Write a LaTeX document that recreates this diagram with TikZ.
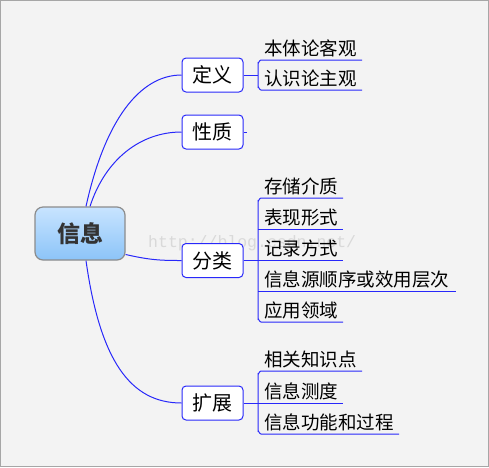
\documentclass[tikz,border=0pt]{standalone}
\usepackage{fontspec}
\setmainfont{Noto Sans CJK SC}
\newfontfamily\wmfont{Liberation Mono}
\usetikzlibrary{positioning}
\definecolor{linkblue}{RGB}{40,40,250}
\definecolor{bgcol}{RGB}{243,243,243}
\definecolor{rootborder}{RGB}{140,140,140}
\definecolor{roottop}{RGB}{200,228,255}
\definecolor{rootbot}{RGB}{140,196,248}
\begin{document}
\begin{tikzpicture}[x=1pt,y=-1pt,
  link/.style={draw=linkblue,line width=1pt},
  rootbox/.style={draw=rootborder,line width=1.2pt,rounded corners=8pt,top color=roottop,bottom color=rootbot,
    minimum width=90pt,minimum height=53pt,inner sep=0pt,font=\fontsize{23}{26}\selectfont\bfseries,text=black!80},
  topic/.style={draw=linkblue,line width=1pt,rounded corners=4pt,fill=white,
    minimum width=61pt,minimum height=34pt,inner sep=0pt,font=\fontsize{20}{23}\selectfont},
  leaf/.style={anchor=south west,inner xsep=0pt,inner ysep=2.5pt,font=\fontsize{18.5}{21}\selectfont},
  ul/.style={draw=linkblue,line width=1pt}
]
\useasboundingbox (0,0) rectangle (489,467);
\fill[bgcol] (0,0) rectangle (489,467);
\draw[gray!70,line width=1pt] (0.5,0.5) rectangle (488.5,466.5);

% watermark
\node[anchor=west,inner sep=0pt,text=gray!30,font=\wmfont\fontsize{16.5}{18}\selectfont] (wm) at (148,243) {http://blog.csdn.net/};

% root
\node[rootbox] (root) at (80,233.5) {信息};

% topics
\node[topic] (def) at (212.5,75) {定义};
\node[topic] (prop) at (212.5,132) {性质};
\node[topic] (cls) at (212.5,260.5) {分类};
\node[topic] (ext) at (212.5,403) {扩展};

% curves
\draw[link] (root.north) ++(6,0) coordinate (r1) .. controls (105,120) and (140,75) .. (def.west);
\draw[link] (root.north) ++(10,0) coordinate (r2) .. controls (105,160) and (140,132) .. (prop.west);
\draw[link] (root.east) ++(0,21) coordinate (r3) .. controls (150,260) and (160,260.5) .. (cls.west);
\draw[link] (root.south) ++(6,0) coordinate (r4) .. controls (100,360) and (130,403) .. (ext.west);

% leaves of 定义
\coordinate (d1) at (258,60);
\coordinate (d2) at (258,90);
\node[leaf] (l11) at (264,60) {本体论客观};
\node[leaf] (l12) at (264,90) {认识论主观};
\draw[link] (def.east) -- (258,75);
\draw[ul] (362,60) -- (261,60) to[out=180,in=-90] (258,63) -- (258,87) to[out=90,in=180] (261,90) -- (362,90);

% 性质 tick
\draw[link] (prop.east) -- ++(3,0);

% leaves of 分类
\node[leaf] (l21) at (264,198) {存储介质};
\node[leaf] (l22) at (264,229) {表现形式};
\node[leaf] (l23) at (264,260) {记录方式};
\node[leaf] (l24) at (264,291) {信息源顺序或效用层次};
\node[leaf] (l25) at (264,322) {应用领域};
\draw[link] (cls.east) -- (258,260.5);
\draw[ul] (343,198) -- (261,198) to[out=180,in=-90] (258,201) -- (258,319) to[out=90,in=180] (261,322) -- (343,322);
\draw[ul] (258,229) -- (343,229);
\draw[ul] (258,260) -- (343,260);
\draw[ul] (258,291) -- (456,291);

% leaves of 扩展
\node[leaf] (l31) at (264,371) {相关知识点};
\node[leaf] (l32) at (264,403) {信息测度};
\node[leaf] (l33) at (264,434) {信息功能和过程};
\draw[link] (ext.east) -- (258,403);
\draw[ul] (362,371) -- (261,371) to[out=180,in=-90] (258,374) -- (258,431) to[out=90,in=180] (261,434) -- (399,434);
\draw[ul] (258,403) -- (343,403);
\end{tikzpicture}
\end{document}
